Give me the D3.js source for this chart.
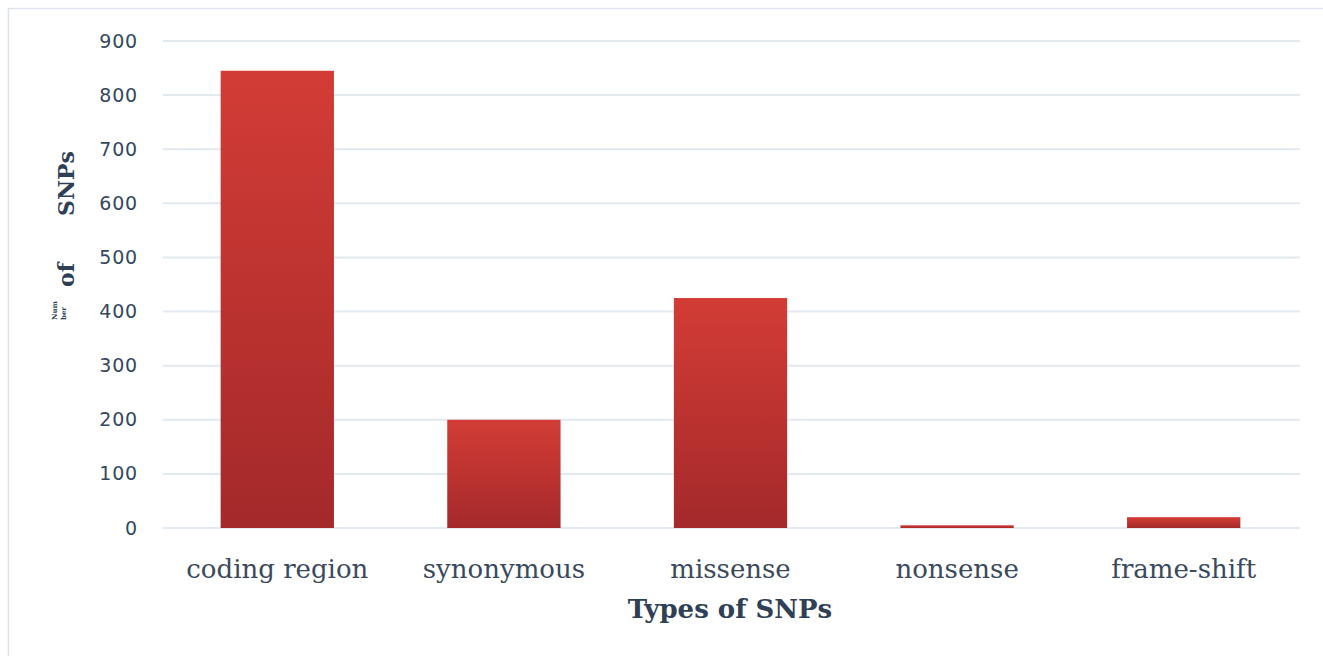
<!DOCTYPE html>
<html>
<head>
<meta charset="utf-8">
<script src="https://cdn.jsdelivr.net/npm/d3@7"></script>
<style>
  body { margin: 0; background: #fff; }
  svg { display: block; }
</style>
</head>
<body>
<div id="chart"></div>
<script>
// SNP type counts
var categories = ["coding region", "synonymous", "missense", "nonsense", "frame-shift"];
var counts = [845, 200, 425, 5, 20];
var yTicks = [0, 100, 200, 300, 400, 500, 600, 700, 800, 900];

var width = 1323, height = 656;

var svg = d3.select("#chart").append("svg")
    .attr("width", width)
    .attr("height", height);

// frame round the chart area
svg.append("rect")
    .attr("x", 8.5).attr("y", 8.5)
    .attr("width", width + 20).attr("height", height + 20)
    .attr("fill", "none")
    .attr("stroke", "#dde4ec")
    .attr("stroke-width", 1.5);

var defs = svg.append("defs");
var grad = defs.append("linearGradient")
    .attr("id", "barGrad")
    .attr("x1", 0).attr("y1", 0).attr("x2", 0).attr("y2", 1);
grad.append("stop").attr("offset", "0%").attr("stop-color", "#d33c36");
grad.append("stop").attr("offset", "100%").attr("stop-color", "#a4292a");

var x = d3.scaleBand()
    .domain(categories)
    .range([164, 1297])
    .paddingInner(0.5)
    .paddingOuter(0.25);

var y = d3.scaleLinear()
    .domain([0, 900])
    .range([528, 41]);

// gridlines
svg.append("g")
  .selectAll("line")
  .data(yTicks)
  .enter()
  .append("line")
    .attr("x1", 163)
    .attr("x2", 1300)
    .attr("y1", function(d) { return y(d); })
    .attr("y2", function(d) { return y(d); })
    .attr("stroke", "#e3e9f0")
    .attr("stroke-width", 2);

// y axis tick labels
var yAxis = d3.axisLeft(y).tickValues(yTicks).tickSize(0).tickPadding(0);
var yg = svg.append("g")
    .attr("transform", "translate(138,0)")
    .call(yAxis);
yg.select(".domain").remove();
yg.selectAll("text")
    .attr("font-family", "DejaVu Sans, sans-serif")
    .attr("font-size", "19px")
    .attr("letter-spacing", "0.8px")
    .attr("fill", "#34485e");

// bars
svg.append("g")
  .selectAll("rect")
  .data(counts)
  .enter()
  .append("rect")
    .attr("x", function(d, i) { return x(categories[i]); })
    .attr("y", function(d) { return y(d); })
    .attr("width", x.bandwidth())
    .attr("height", function(d) { return y(0) - y(d); })
    .attr("fill", "url(#barGrad)");

// x axis category labels
var xAxis = d3.axisBottom(x).tickSize(0).tickPadding(0);
var xg = svg.append("g")
    .attr("transform", "translate(0,578)")
    .call(xAxis);
xg.select(".domain").remove();
xg.selectAll("text")
    .attr("y", 0)
    .attr("dy", 0)
    .attr("font-family", "DejaVu Serif, serif")
    .attr("font-size", "26px")
    .attr("fill", "#3a4a5c");

// x title
svg.append("text")
    .attr("x", 730)
    .attr("y", 618)
    .attr("text-anchor", "middle")
    .attr("font-family", "DejaVu Serif, serif")
    .attr("font-weight", "bold")
    .attr("font-size", "26px")
    .attr("fill", "#2f3f55")
    .text("Types of SNPs");

// y title, with the squashed "Num ber" as in the figure
var yt = svg.append("g");
yt.append("text")
    .attr("transform", "translate(57,320) rotate(-90)")
    .attr("font-family", "DejaVu Serif, serif")
    .attr("font-weight", "bold")
    .attr("font-size", "7px")
    .attr("fill", "#2f3f55")
    .text("Num");
yt.append("text")
    .attr("transform", "translate(66,320) rotate(-90)")
    .attr("font-family", "DejaVu Serif, serif")
    .attr("font-weight", "bold")
    .attr("font-size", "7px")
    .attr("fill", "#2f3f55")
    .text("ber");
yt.append("text")
    .attr("transform", "translate(74,287) rotate(-90)")
    .attr("font-family", "DejaVu Serif, serif")
    .attr("font-weight", "bold")
    .attr("font-size", "22px")
    .attr("fill", "#2f3f55")
    .text("of");
yt.append("text")
    .attr("transform", "translate(74,216) rotate(-90)")
    .attr("font-family", "DejaVu Serif, serif")
    .attr("font-weight", "bold")
    .attr("font-size", "22px")
    .attr("fill", "#2f3f55")
    .text("SNPs");
</script>
</body>
</html>
